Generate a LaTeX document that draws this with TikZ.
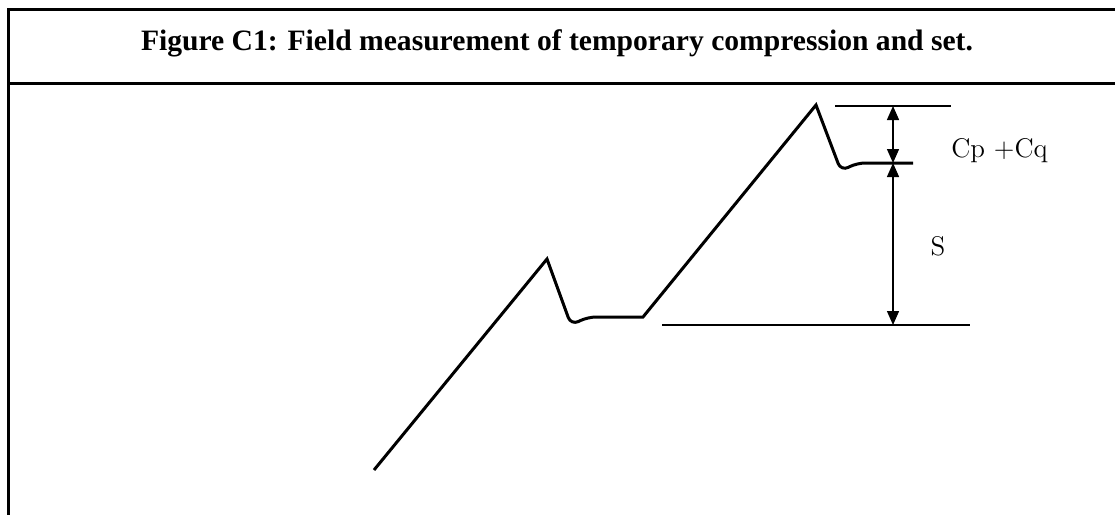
\documentclass[tikz,border=0pt]{standalone}
\usepackage{fontspec}
\newfontfamily\titlefont{Liberation Serif}
\usetikzlibrary{arrows.meta}

\begin{document}
\begin{tikzpicture}[
  x=0.5pt, y=-0.5pt,
  frame/.style={draw, line width=1.5pt},
  curve/.style={draw, line width=1.5pt, line join=miter},
  guide/.style={draw, line width=0.7pt},
  dim/.style={draw, line width=0.7pt, {Triangle[length=7pt,width=6pt]}-{Triangle[length=7pt,width=6pt]}},
  lbl/.style={font=\fontsize{13.5}{15}\selectfont, inner sep=0pt}
]
\useasboundingbox (0,0) rectangle (1115,515);
% frame and title band
\draw[frame] (1115,9) -- (8,9) -- (8,515);
\draw[frame] (8,83) -- (1115,83);
\node[font=\titlefont\bfseries\fontsize{14.8}{17}\selectfont] (title) at (557,43)
  {Figure C1: Field measurement of temporary compression and set.};
% points of the curve
\coordinate (start) at (374,470);
\coordinate (peakA) at (547,259);
\coordinate (dipA)  at (571,325);
\coordinate (flatA) at (588,317);
\coordinate (endA)  at (643,317);
\coordinate (peakB) at (816,105);
\coordinate (dipB)  at (841,171);
\coordinate (flatB) at (857,163);
\coordinate (endB)  at (913,163);
\path[curve] (start) -- (peakA) [rounded corners=4pt] -- (dipA) -- (flatA) [sharp corners] -- (endA)
  -- (peakB) [rounded corners=4pt] -- (dipB) -- (flatB) [sharp corners] -- (endB);
% reference lines
\coordinate (topL) at (835,106);
\coordinate (topR) at (951,106);
\coordinate (botL) at (662,325);
\coordinate (botR) at (970,325);
\path[guide] (topL) -- (topR);
\path[guide] (botL) -- (botR);
% dimensions
\coordinate (dTop) at (893,106);
\coordinate (dMid) at (893,163);
\coordinate (dBot) at (893,325);
\path[dim] (dMid) -- (dTop);
\path[dim] (dMid) -- (dBot);
\node[lbl, anchor=west] (cpcq) at (951,151) {Cp +Cq};
\node[lbl] (set) at (938,246) {S};
\end{tikzpicture}
\end{document}
